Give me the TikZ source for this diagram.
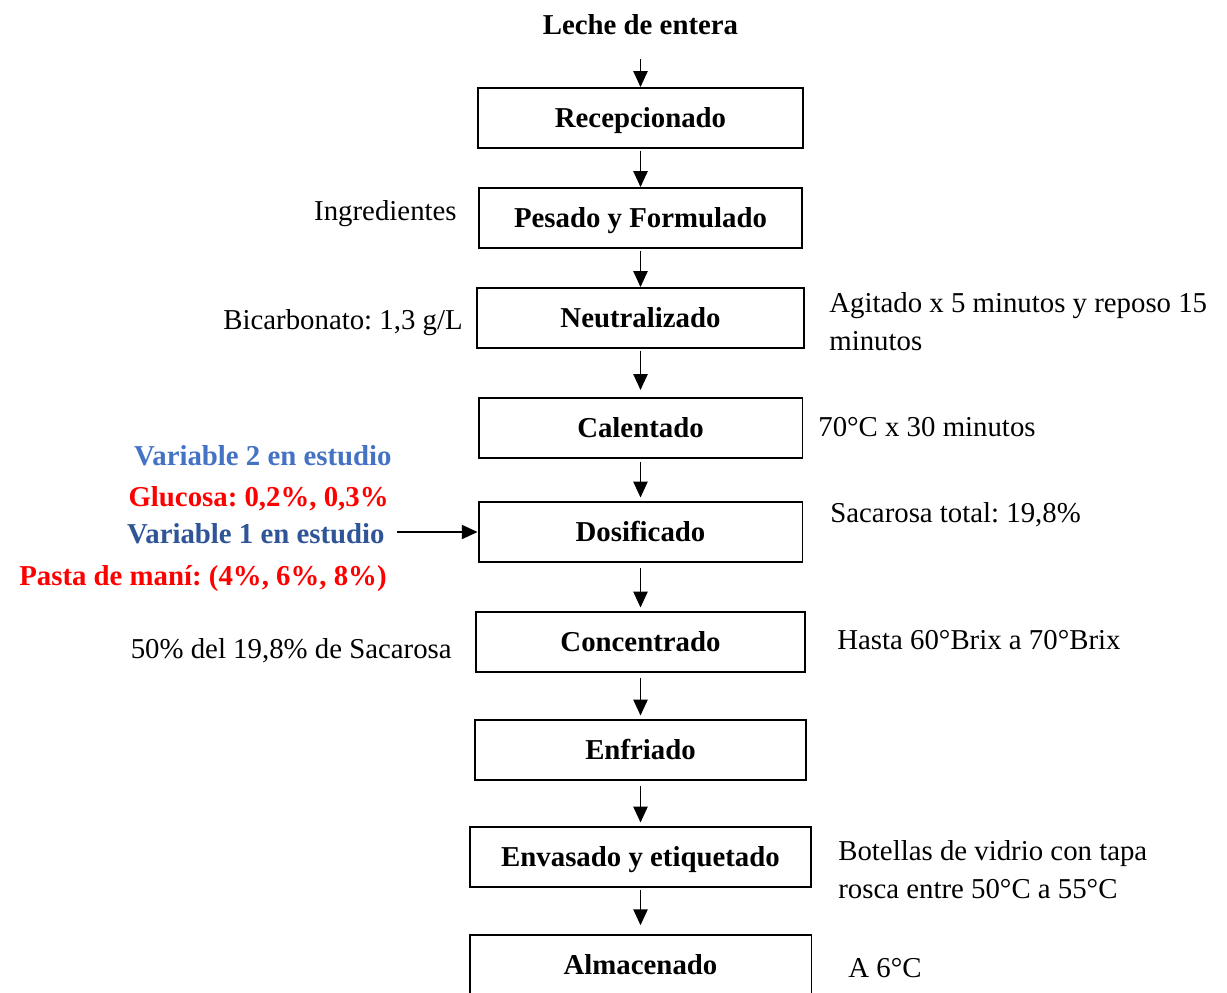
\documentclass[tikz,border=0pt]{standalone}
\usepackage{fontspec}
\setmainfont{Liberation Serif}
\frenchspacing
\usetikzlibrary{arrows.meta, positioning}
\definecolor{varblue}{HTML}{4472C4}
\definecolor{vardark}{HTML}{2F5597}
\definecolor{varred}{HTML}{FF0000}

\begin{document}
\begin{tikzpicture}[x=0.02cm, y=-0.02cm,
    every node/.style={font=\fontsize{16.4}{21.5}\selectfont},
    stage/.style={draw, rectangle, line width=1.1pt, minimum height=1.2cm,
        text height=13.5pt, text depth=3pt,
        font=\fontsize{16.4}{21.5}\selectfont\bfseries},
    note/.style={align=left, inner sep=0pt},
    flow/.style={line width=1.1pt, -{Triangle[length=9pt, width=8pt]}}]
    \useasboundingbox (0,0) rectangle (1227,992);
    \clip (0,0) rectangle (1227,992);
    % Nodes
    \node[font=\fontsize{16.4}{21.5}\selectfont\bfseries] (leche) at (640.5,25) {Leche de entera};
    \node[stage, minimum width=6.5cm] (recep) at (640.5,118) {Recepcionado};
    \node[stage, minimum width=6.46cm] (pesado) at (640.5,218) {Pesado y Formulado};
    \node[stage, minimum width=6.54cm] (neutra) at (640.5,318) {Neutralizado};
    \node[stage, minimum width=6.48cm] (calen) at (640.5,428) {Calentado};
    \node[stage, minimum width=6.48cm] (dosif) at (640.5,532) {Dosificado};
    \node[stage, minimum width=6.58cm] (concen) at (640.5,642) {Concentrado};
    \node[stage, minimum width=6.62cm] (enfri) at (640.5,750) {Enfriado};
    \node[stage, minimum width=6.82cm] (envas) at (640.5,857) {Envasado y etiquetado};
    \node[stage, minimum width=6.84cm] (almac) at (640.5,965) {Almacenado};
    % Notes
    \node[note, anchor=east] (ingred) at (457,214) {Ingredientes};
    \node[note, anchor=east] (bicarb) at (463,323) {Bicarbonato: 1,3 g/L};
    \node[note, anchor=west] (agitado) at (829,322) {Agitado x 5 minutos y reposo 15\\minutos};
    \node[note, anchor=west] (temp) at (818,427) {70°C x 30 minutos};
    \node[note, anchor=east, text=varblue, font=\fontsize{16.4}{21.5}\selectfont\bfseries] (var2) at (392,456) {Variable 2 en estudio};
    \node[note, anchor=east, text=varred, font=\fontsize{16.4}{21.5}\selectfont\bfseries] (gluc) at (389,499) {Glucosa: 0,2\%, 0,3\%};
    \node[note, anchor=east, text=vardark, font=\fontsize{16.4}{21.5}\selectfont\bfseries] (var1) at (385,534) {Variable 1 en estudio};
    \node[note, anchor=east, text=varred, font=\fontsize{16.4}{21.5}\selectfont\bfseries] (pasta) at (387,579) {Pasta de maní: (4\%, 6\%, 8\%)};
    \node[note, anchor=west] (sacar) at (830,515) {Sacarosa total: 19,8\%};
    \node[note, anchor=east] (mitad) at (452,651) {50\% del 19,8\% de Sacarosa};
    \node[note, anchor=west] (brix) at (837,640) {Hasta 60°Brix a 70°Brix};
    \node[note, anchor=west] (botel) at (838,870) {Botellas de vidrio con tapa\\rosca entre 50°C a 55°C};
    \node[note, anchor=west] (frio) at (848,968) {A 6°C};
    % Arrows
    \draw[flow, shorten <=10pt] (leche) -- (recep);
    \draw[flow, shorten <=1pt] (recep) -- (pesado);
    \draw[flow, shorten <=1pt] (pesado) -- (neutra);
    \draw[flow, shorten <=1pt, shorten >=4pt] (neutra) -- (calen);
    \draw[flow, shorten <=2pt, shorten >=2pt] (calen) -- (dosif);
    \draw[flow, shorten <=3pt, shorten >=2pt] (dosif) -- (concen);
    \draw[flow, shorten <=3pt, shorten >=2pt] (concen) -- (enfri);
    \draw[flow, shorten <=3pt, shorten >=2pt] (enfri) -- (envas);
    \draw[flow, shorten <=1pt, shorten >=5pt] (envas) -- (almac);
    \draw[flow, shorten <=7pt] (var1.east |- dosif.west) -- (dosif);
\end{tikzpicture}
\end{document}
